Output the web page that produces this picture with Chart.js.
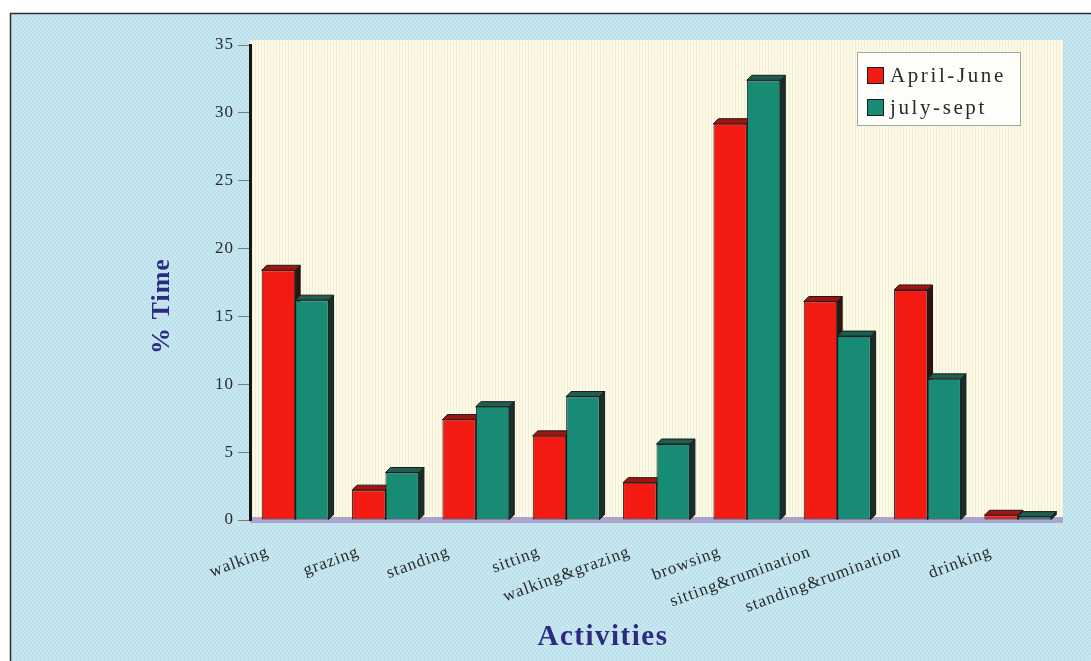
<!DOCTYPE html>
<html>
<head>
<meta charset="utf-8">
<title>Activity budget</title>
<script src="https://cdn.jsdelivr.net/npm/chart.js@4.4.1/dist/chart.umd.min.js"></script>
<style>
  html, body { margin: 0; padding: 0; background: #ffffff; }
  canvas { display: block; }
</style>
</head>
<body>
<canvas id="chart" width="1091" height="661"></canvas>
<script>
// Share of observed time spent in each activity, per season
const categories = ['walking', 'grazing', 'standing', 'sitting', 'walking&grazing', 'browsing',
                    'sitting&rumination', 'standing&rumination', 'drinking'];
const aprilJune = [18.4, 2.2, 7.4, 6.2, 2.75, 29.2, 16.1, 16.95, 0.35];
const julySept  = [16.2, 3.5, 8.35, 9.1, 5.6, 32.4, 13.55, 10.4, 0.25];
const seriesNames = ['April-June', 'july-sept'];
const yTicks = [0, 5, 10, 15, 20, 25, 30, 35];
const yTitle = '% Time';
const xTitle = 'Activities';

const SERIF = '"Liberation Serif", "DejaVu Serif", serif';
const DEPTH = 5;
const OUTLINE = '#1b1b1b';
const palette = [
  { front: '#f31a12', top: '#a3140f', side: '#2c1511' },
  { front: '#188b74', top: '#1f5d50', side: '#15302a' }
];

function makePattern(ctx, w, h, paint) {
  const c = document.createElement('canvas');
  c.width = w; c.height = h;
  paint(c.getContext('2d'), w, h);
  return ctx.createPattern(c, 'repeat');
}

// Page panel, back wall and floor of the plot
const backdrop = {
  id: 'backdrop',
  beforeUpdate(chart) { chart.ctx.letterSpacing = '1px'; },
  beforeDraw(chart) {
    const { ctx, chartArea: a, width, height } = chart;
    ctx.save();
    ctx.fillStyle = '#ffffff';
    ctx.fillRect(0, 0, width, height);
    ctx.fillStyle = makePattern(ctx, 4, 4, (g, w, h) => {
      g.fillStyle = '#c6e7f0'; g.fillRect(0, 0, w, h);
      g.strokeStyle = '#b5dbe6'; g.lineWidth = 1;
      g.beginPath(); g.moveTo(-1, -1); g.lineTo(w + 1, h + 1); g.stroke();
    });
    ctx.fillRect(10, 13, width - 10, height - 13);
    ctx.strokeStyle = '#2d2d2d'; ctx.lineWidth = 1.5;
    ctx.beginPath(); ctx.moveTo(10.5, height); ctx.lineTo(10.5, 13.5); ctx.lineTo(width, 13.5); ctx.stroke();
    ctx.fillStyle = makePattern(ctx, 3, 3, (g, w, h) => {
      g.fillStyle = '#fdfae8'; g.fillRect(0, 0, w, h);
      g.fillStyle = '#f3efd6'; g.fillRect(0, 0, 1, h);
    });
    ctx.fillRect(a.left, a.top - 5, a.right - a.left, a.bottom - a.top + 5);
    ctx.fillStyle = '#aba4cc';
    ctx.fillRect(a.left, a.bottom - 3, a.right - a.left, 6);
    ctx.restore();
    ctx.letterSpacing = '1px';
  }
};

// Top and side faces give each bar its depth
const extrude = {
  id: 'extrude',
  beforeDatasetsDraw(chart) {
    const ctx = chart.ctx;
    const poly = (pts, fill) => {
      ctx.beginPath();
      pts.forEach(([px, py], k) => (k ? ctx.lineTo(px, py) : ctx.moveTo(px, py)));
      ctx.closePath();
      ctx.fillStyle = fill; ctx.fill(); ctx.stroke();
    };
    ctx.save();
    ctx.lineWidth = 1; ctx.strokeStyle = OUTLINE; ctx.lineJoin = 'round';
    for (let j = 0; j < chart.data.labels.length; j++) {
      chart.data.datasets.forEach((ds, i) => {
        const bar = chart.getDatasetMeta(i).data[j];
        const { x, y, base, width } = bar.getProps(['x', 'y', 'base', 'width'], true);
        const l = x - width / 2, r = x + width / 2, d = DEPTH;
        poly([[r, y], [r + d, y - d], [r + d, base - d], [r, base]], palette[i].side);
        poly([[l, y], [l + d, y - d], [r + d, y - d], [r, y]], palette[i].top);
      });
    }
    ctx.restore();
  }
};

// Legend box and axis titles
const annotations = {
  id: 'annotations',
  afterDraw(chart) {
    const { ctx, chartArea: a } = chart;
    ctx.save();
    const bx = a.right - 206, by = a.top + 7, bw = 163, bh = 73;
    ctx.fillStyle = '#fdfdf9';
    ctx.fillRect(bx, by, bw, bh);
    ctx.strokeStyle = '#a3a3a3'; ctx.lineWidth = 1;
    ctx.strokeRect(bx + 0.5, by + 0.5, bw, bh);
    ctx.font = '21px ' + SERIF;
    ctx.letterSpacing = '2.6px';
    ctx.textAlign = 'left'; ctx.textBaseline = 'middle';
    chart.data.datasets.forEach((ds, i) => {
      const sy = by + 15 + i * 32;
      ctx.fillStyle = ds.backgroundColor;
      ctx.fillRect(bx + 10, sy, 17, 17);
      ctx.strokeStyle = OUTLINE;
      ctx.strokeRect(bx + 10.5, sy + 0.5, 16, 16);
      ctx.fillStyle = '#2a2a2a';
      ctx.fillText(ds.label, bx + 33, sy + 9);
    });

    ctx.fillStyle = '#2c2a82';
    ctx.textAlign = 'center'; ctx.textBaseline = 'middle';
    ctx.font = 'bold 26px ' + SERIF;
    ctx.letterSpacing = '1px';
    ctx.save();
    ctx.translate(a.left - 88, a.top + 261);
    ctx.rotate(-Math.PI / 2);
    ctx.fillText(yTitle, 0, 0);
    ctx.restore();
    ctx.font = 'bold 29px ' + SERIF;
    ctx.letterSpacing = '1.5px';
    ctx.fillText(xTitle, a.left + 353, a.bottom + 118);
    ctx.restore();
  }
};

new Chart(document.getElementById('chart'), {
  type: 'bar',
  data: {
    labels: categories,
    datasets: [aprilJune, julySept].map((values, i) => ({
      label: seriesNames[i],
      data: values,
      backgroundColor: palette[i].front,
      borderColor: OUTLINE,
      borderWidth: 1,
      borderSkipped: false,
      barPercentage: 1,
      categoryPercentage: 0.74
    }))
  },
  options: {
    responsive: false,
    animation: false,
    layout: { padding: { top: 45, right: 28, left: 0, bottom: 0 } },
    plugins: { legend: { display: false }, tooltip: { enabled: false } },
    scales: {
      x: {
        grid: { display: false, drawTicks: false },
        border: { display: false },
        ticks: {
          autoSkip: false,
          minRotation: 20, maxRotation: 20,
          padding: 22,
          labelOffset: -27,
          color: '#2a2a2a',
          font: { family: SERIF, size: 17 }
        },
        afterFit(scale) { scale.height = 141; }
      },
      y: {
        min: 0, max: 35,
        afterBuildTicks(scale) { scale.ticks = yTicks.map(v => ({ value: v })); },
        grid: { drawOnChartArea: false, drawTicks: true, tickLength: 12, color: '#7c7c7c', lineWidth: 1 },
        border: { display: true, color: '#151515', width: 3 },
        ticks: {
          padding: 4,
          color: '#2a2a2a',
          font: { family: SERIF, size: 17 }
        },
        afterFit(scale) { scale.width = 250; }
      }
    }
  },
  plugins: [backdrop, extrude, annotations]
});
</script>
</body>
</html>
